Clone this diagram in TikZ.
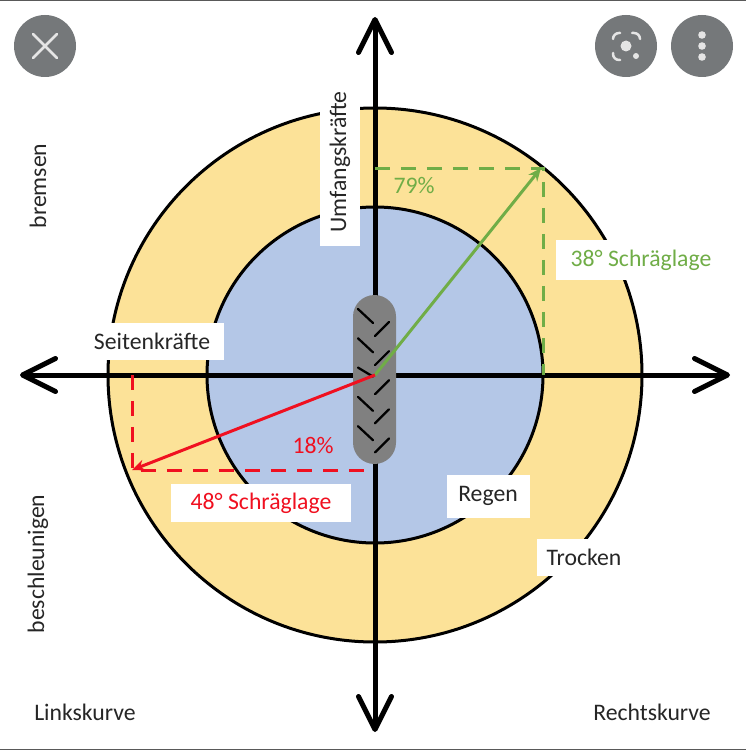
\documentclass[tikz,border=0pt]{standalone}
\usepackage{fontspec}
\setmainfont{Carlito}
\usetikzlibrary{arrows.meta}
\definecolor{ringyellow}{HTML}{FCE298}
\definecolor{ringblue}{HTML}{B4C7E7}
\definecolor{tiregray}{HTML}{808080}
\definecolor{btngray}{HTML}{75787A}
\definecolor{labelgreen}{HTML}{70AD47}
\definecolor{labelred}{HTML}{F01020}
\definecolor{textgray}{HTML}{262626}

\begin{document}
\begin{tikzpicture}[x=0.02cm, y=-0.02cm, every node/.style={font=\fontsize{13.5}{15}\selectfont, text=textgray},
	>={Straight Barb[round, length=6.6mm, width=6.6mm]},
	axis/.style={->, line width=1mm},
	lab/.style={fill=white, inner sep=0pt, minimum height=0.76cm},
	force/.style={->, line width=0.6mm, >={Stealth[length=2.6mm, width=2.2mm]}},
	help/.style={line width=0.6mm, dash pattern=on 3mm off 2.2mm},
	btn/.style={fill=btngray},
	icon/.style={white!90!black, line width=0.5mm, line cap=round}]
	\useasboundingbox (0,0) rectangle (746,750);
	\fill[white] (0,0) rectangle (746,750);
	\fill[black!65] (0,0) rectangle (746,1.5);
	\fill[black!65] (0,748.5) rectangle (746,750);
	\coordinate (C) at (375,375);
	\coordinate (top) at (375,17);
	\coordinate (bot) at (375,732);
	\coordinate (lft) at (20,375);
	\coordinate (rgt) at (730,375);
	\coordinate (G) at (541,168);
	\coordinate (GT) at (375,168);
	\coordinate (GR) at (543,375);
	\coordinate (GC) at (543,168);
	\coordinate (R) at (132,470);
	\coordinate (RL) at (132,375);
	\coordinate (RR) at (372,470);
	\fill[ringyellow] (C) circle (267);
	\draw[line width=0.6mm] (C) circle (267);
	\fill[ringblue] (C) circle (168);
	\draw[line width=0.6mm] (C) circle (168);
	\draw[axis] (C) -- (top);
	\draw[axis] (C) -- (bot);
	\draw[axis] (C) -- (lft);
	\draw[axis] (C) -- (rgt);
	\fill[tiregray, rounded corners=0.43cm] (353,295) rectangle (396,464);
	\foreach \i in {0,...,4} {
		\draw[line width=0.45mm, line cap=round] (358,{309+29.3*\i}) -- ++(15,{\i==2 ? 9 : 14});
		\draw[line width=0.45mm, line cap=round] (375,{336+29.1*\i}) -- ++(14,-14);
	}
	\draw[help, labelgreen] (GT) -- (GC) -- (GR);
	\draw[help, labelred] (RL) -- (R) -- (RR);
	\draw[force, labelgreen] (C) -- (G);
	\draw[force, labelred] (C) -- (R);
	\node[lab, rotate=90, minimum width=3.38cm, minimum height=0.8cm] (umfang) at (340,162) {Umfangskräfte};
	\node[lab, minimum width=2.9cm, minimum height=0.74cm] (seiten) at (152,341) {Seitenkräfte};
	\node[lab, minimum width=3.4cm, minimum height=0.8cm, text=labelgreen] (schraeg38) at (641,260) {38° Schräglage};
	\node[lab, minimum width=3.62cm, text=labelred] (schraeg48) at (261,503) {48° Schräglage};
	\node[lab, minimum width=1.66cm, minimum height=0.86cm] (regen) at (488,496) {Regen};
	\node[lab, minimum width=1.9cm, minimum height=0.74cm] (trocken) at (584,557) {Trocken};
	\node[text=labelgreen] (p79) at (414,186) {79\%};
	\node[text=labelred] (p18) at (313,445) {18\%};
	\node[rotate=90] (bremsen) at (38,186) {bremsen};
	\node[rotate=90] (beschl) at (38,564) {beschleunigen};
	\node (links) at (85,712) {Linkskurve};
	\node (rechts) at (652,712) {Rechtskurve};
	\fill[btn] (45,46) circle (31);
	\fill[btn] (626,46) circle (31);
	\fill[btn] (702,46) circle (31);
	\draw[icon] (33,34) -- (57,58);
	\draw[icon] (57,34) -- (33,58);
	\fill[white!90!black] (626,46) circle (5.5);
	\fill[white!90!black] (636,56) circle (3);
	\draw[icon, rounded corners=1.2mm] (613,39) -- (613,33) -- (620,33);
	\draw[icon, rounded corners=1.2mm] (632,33) -- (640,33) -- (640,39);
	\draw[icon, rounded corners=1.2mm] (613,53) -- (613,60) -- (620,60);
	\foreach \dy in {35,46,57}
		\fill[white!90!black] (702,\dy) circle (3.8);
\end{tikzpicture}
\end{document}
